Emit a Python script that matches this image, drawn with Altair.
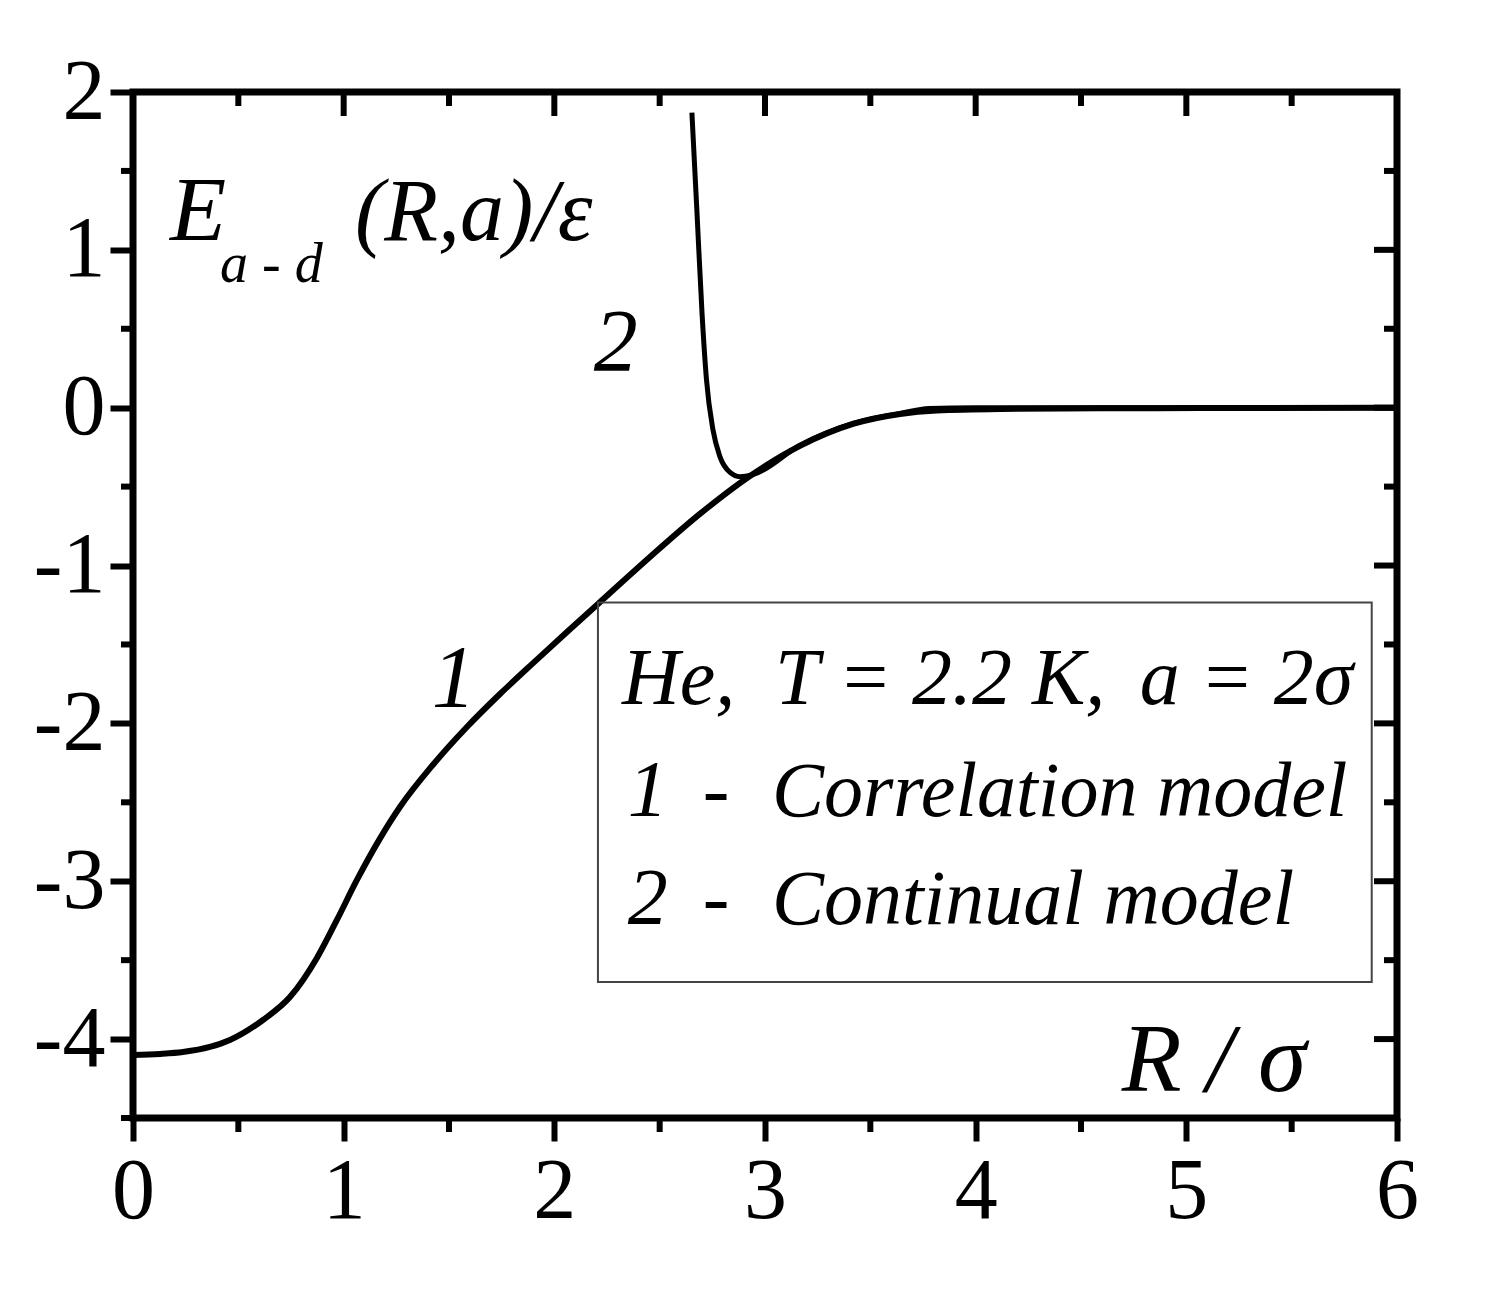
import altair as alt
import pandas as pd

FONT = "Liberation Serif"

# ---- data ----
# Curve 1: correlation model
r1 = [0.0, 0.128, 0.237, 0.365, 0.460, 0.617, 0.745, 0.873, 0.968, 1.063, 1.172, 1.267,
      1.424, 1.585, 1.742, 1.899, 2.060, 2.217, 2.454, 2.691, 2.915, 3.166, 3.418, 3.641,
      3.816, 4.115, 4.590, 5.065, 6.0]
e1 = [-4.101, -4.094, -4.082, -4.050, -4.006, -3.879, -3.734, -3.486, -3.245, -2.992, -2.730, -2.530,
      -2.262, -2.023, -1.814, -1.618, -1.421, -1.231, -0.946, -0.673, -0.445, -0.242, -0.103, -0.040,
      -0.018, -0.008, -0.004, -0.002, 0.0]
# Curve 2: continual model
r2 = [2.653, 2.677, 2.701, 2.722, 2.753, 2.786, 2.834, 2.881, 2.943, 3.166, 3.418,
      3.641, 3.78, 4.0, 5.0, 6.0]
e2 = [1.87, 1.24, 0.60, 0.18, -0.14, -0.31, -0.41, -0.437, -0.424, -0.238, -0.100,
      -0.036, -0.005, 0.0, 0.0, 0.0]

x_major = [0, 1, 2, 3, 4, 5, 6]
x_minor = [0.5, 1.5, 2.5, 3.5, 4.5, 5.5]
y_major = [-4, -3, -2, -1, 0, 1, 2]
y_minor = [-4.5, -3.5, -2.5, -1.5, -0.5, 0.5, 1.5]

# annotation texts
ylab_main = ["E", "(R,a)/ε"]
ylab_main_x = [0.176, 1.054]
ylab_main_y = [1.063, 1.063]
ylab_sub = ["a - d"]
ylab_sub_x = [0.413]
ylab_sub_y = [0.797]
xlab = ["R / σ"]
xlab_x = [4.694]
xlab_y = [-4.329]
curve_labels = ["2", "1"]
curve_label_x = [2.292, 1.523]
curve_label_y = [0.24, -1.892]

legend_head = ["He,", "T = 2.2 K,", "a = 2σ"]
legend_head_x = [2.321, 3.047, 4.779]
legend_nums = ["1", "2"]
legend_names = ["Correlation model", "Continual model"]
legend_rows_y = [-2.589, -3.272]
legend_head_y = -1.880
legend_num_x = 2.349
legend_dash_x = 2.705
legend_name_x = 3.033
legend_box = {"x": [2.207], "x2": [5.880], "y": [-1.234], "y2": [-3.639]}

W, H = 1264, 1026
xs = alt.Scale(domain=[0, 6], nice=False, zero=False)
ys = alt.Scale(domain=[-4.5, 2], nice=False, zero=False)

axis_common = dict(title=None, tickSize=23, tickWidth=6, tickColor="black", domain=False,
                   labelFont=FONT, labelFontSize=86, labelColor="black", labelFlush=False,
                   labelOverlap=False, grid=False,
                   labelExpr="datum.value < 0 ? '-' + abs(datum.value) : '' + datum.value")
X_AX = alt.Axis(values=x_major, labelPadding=8, **axis_common)
Y_AX = alt.Axis(values=y_major, labelPadding=5, **axis_common)


def X(field):
    return alt.X(field, scale=xs, axis=X_AX, title=None)


def Y(field):
    return alt.Y(field, scale=ys, axis=Y_AX, title=None)


line1 = alt.Chart(pd.DataFrame({"r": r1, "e": e1})).mark_line(
    color="black", strokeWidth=6, interpolate="monotone").encode(x=X("r:Q"), y=Y("e:Q"))
line2 = alt.Chart(pd.DataFrame({"r": r2, "e": e2})).mark_line(
    color="black", strokeWidth=5, interpolate="monotone").encode(x=X("r:Q"), y=Y("e:Q"))


def rules_x(vals, y0, y1):
    return alt.Chart(pd.DataFrame({"v": vals})).mark_rule(color="black", strokeWidth=6).encode(
        x=X("v:Q"), y=alt.value(y0), y2=alt.value(y1))


def rules_y(vals, x0, x1):
    return alt.Chart(pd.DataFrame({"v": vals})).mark_rule(color="black", strokeWidth=6).encode(
        y=Y("v:Q"), x=alt.value(x0), x2=alt.value(x1))


ticks = [
    rules_x(x_minor, H, H + 14),        # bottom minor, outward
    rules_y(y_minor, 0, -12),           # left minor, outward
    rules_x(x_major, 0, 24),            # top major, inward
    rules_x(x_minor, 0, 14),            # top minor, inward
    rules_y(y_major, W, W - 23),        # right major, inward
    rules_y(y_minor, W, W - 13),        # right minor, inward
]


def text_layer(texts, xv, yv, size, align="left", style="italic"):
    df = pd.DataFrame({"x": xv, "y": yv, "t": texts})
    return alt.Chart(df).mark_text(font=FONT, fontSize=size, fontStyle=style, align=align,
                                   baseline="alphabetic", color="black").encode(
        x=X("x:Q"), y=Y("y:Q"), text="t:N")


texts = [
    text_layer(ylab_main[:1], ylab_main_x[:1], ylab_main_y[:1], 92),
    text_layer(ylab_main[1:], ylab_main_x[1:], ylab_main_y[1:], 88),
    text_layer(ylab_sub, ylab_sub_x, ylab_sub_y, 56),
    text_layer(xlab, xlab_x, xlab_y, 98),
    text_layer(curve_labels, curve_label_x, curve_label_y, 88, align="center"),
    text_layer(legend_head, legend_head_x, [legend_head_y] * 3, 80),
    text_layer(legend_nums, [legend_num_x] * 2, legend_rows_y, 80),
    text_layer(["-", "-"], [legend_dash_x] * 2, legend_rows_y, 80, style="normal"),
    text_layer(legend_names, [legend_name_x] * 2, legend_rows_y, 78),
]

box = alt.Chart(pd.DataFrame(legend_box)).mark_rect(
    fill="white", fillOpacity=0, stroke="#444444", strokeWidth=2).encode(
    x=X("x:Q"), x2="x2:Q", y=Y("y:Q"), y2="y2:Q")

chart = alt.layer(line1, line2, box, *ticks, *texts).properties(
    width=W, height=H,
    autosize=alt.AutoSizeParams(type="none"),
    padding={"left": 125, "top": 84, "right": 80, "bottom": 170},
).configure(background="white",
            view=alt.ViewConfig(stroke="black", strokeWidth=7))

chart.save("out.html", embed_options={"renderer": "svg", "actions": False})
